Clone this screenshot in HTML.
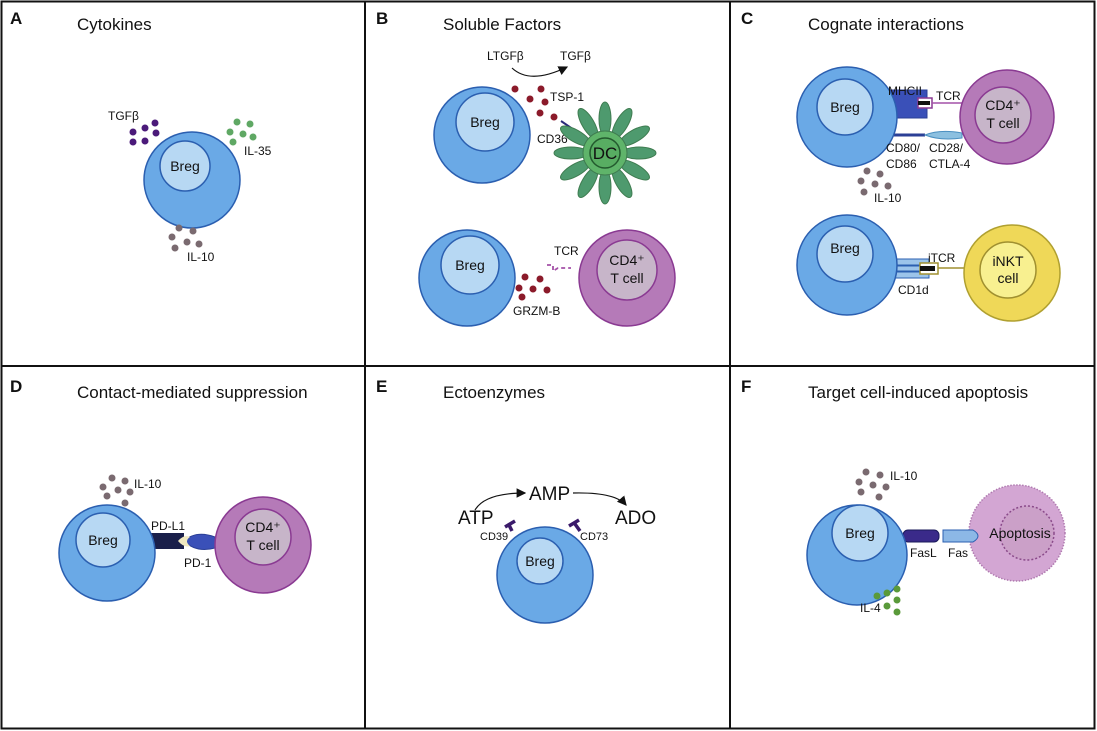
<!DOCTYPE html>
<html><head><meta charset="utf-8"><style>
html,body{margin:0;padding:0;background:#fff}
svg{display:block}
text{font-family:"Liberation Sans",sans-serif;fill:#111}
.t{font-size:17px}
.L{font-size:17px;font-weight:bold}
.s{font-size:12px}
.b{font-size:14px}
.o{fill:#6aa9e6;stroke:#2b5fb0;stroke-width:1.5}
.i{fill:#b7d8f3;stroke:#2b5fb0;stroke-width:1.5}
.po{fill:#b57ab8;stroke:#8a3a92;stroke-width:1.5}
.pi{fill:#c7b5c9;stroke:#8a3a92;stroke-width:1.5}
</style></head><body>
<svg width="1097" height="731" viewBox="0 0 1097 731" xmlns="http://www.w3.org/2000/svg">
<defs><marker id="ar" markerWidth="8" markerHeight="8" refX="7" refY="4" orient="auto"><path d="M0,0 L8,4 L0,8 z" fill="#111"/></marker></defs>
<rect x="1.5" y="1.5" width="1093" height="727" fill="none" stroke="#111" stroke-width="2"/>
<line x1="365" y1="1" x2="365" y2="729" stroke="#111" stroke-width="2"/>
<line x1="730" y1="1" x2="730" y2="729" stroke="#111" stroke-width="2"/>
<line x1="1" y1="366" x2="1095" y2="366" stroke="#111" stroke-width="2"/>

<text class="L" x="10" y="24">A</text><text class="t" x="77" y="30">Cytokines</text>
<text class="L" x="376" y="24">B</text><text class="t" x="443" y="30">Soluble Factors</text>
<text class="L" x="741" y="24">C</text><text class="t" x="808" y="30">Cognate interactions</text>
<text class="L" x="10" y="392">D</text><text class="t" x="77" y="398">Contact-mediated suppression</text>
<text class="L" x="376" y="392">E</text><text class="t" x="443" y="398">Ectoenzymes</text>
<text class="L" x="741" y="392">F</text><text class="t" x="808" y="398">Target cell-induced apoptosis</text>

<!-- A -->
<circle class="o" cx="192" cy="180" r="48"/><circle class="i" cx="185" cy="166" r="25"/>
<text class="b" x="185" y="171" text-anchor="middle">Breg</text>
<g fill="#4b1a7a"><circle cx="133" cy="132" r="3.5"/><circle cx="145" cy="128" r="3.5"/><circle cx="155" cy="123" r="3.5"/><circle cx="133" cy="142" r="3.5"/><circle cx="145" cy="141" r="3.5"/><circle cx="156" cy="133" r="3.5"/></g>
<text class="s" x="108" y="120">TGFβ</text>
<g fill="#5fa864"><circle cx="237" cy="122" r="3.5"/><circle cx="250" cy="124" r="3.5"/><circle cx="230" cy="132" r="3.5"/><circle cx="243" cy="134" r="3.5"/><circle cx="253" cy="137" r="3.5"/><circle cx="233" cy="142" r="3.5"/></g>
<text class="s" x="244" y="155">IL-35</text>
<g fill="#7a6a70"><circle cx="179" cy="228" r="3.5"/><circle cx="193" cy="231" r="3.5"/><circle cx="172" cy="237" r="3.5"/><circle cx="187" cy="242" r="3.5"/><circle cx="199" cy="244" r="3.5"/><circle cx="175" cy="248" r="3.5"/></g>
<text class="s" x="187" y="261">IL-10</text>

<!-- B top -->
<circle class="o" cx="482" cy="135" r="48"/><circle class="i" cx="485" cy="122" r="29"/>
<text class="b" x="485" y="127" text-anchor="middle">Breg</text>
<text class="s" x="487" y="60">LTGFβ</text><text class="s" x="560" y="60">TGFβ</text>
<path d="M512,68 Q530,85 567,67" fill="none" stroke="#111" stroke-width="1.2" marker-end="url(#ar)"/>
<g fill="#8b1a2a"><circle cx="515" cy="89" r="3.5"/><circle cx="541" cy="89" r="3.5"/><circle cx="530" cy="99" r="3.5"/><circle cx="545" cy="102" r="3.5"/><circle cx="540" cy="113" r="3.5"/><circle cx="554" cy="117" r="3.5"/></g>
<text class="s" x="550" y="101">TSP-1</text>
<text class="s" x="537" y="143">CD36</text>
<line x1="561" y1="121" x2="580" y2="134" stroke="#2a2a7a" stroke-width="2"/>
<g fill="#4e9a6e" stroke="#3f7c50" stroke-width="1" transform="translate(605,153)">
<g id="pet"><ellipse cx="0" cy="-34" rx="6" ry="17"/></g>
<use href="#pet" transform="rotate(30)"/><use href="#pet" transform="rotate(60)"/><use href="#pet" transform="rotate(90)"/><use href="#pet" transform="rotate(120)"/><use href="#pet" transform="rotate(150)"/><use href="#pet" transform="rotate(180)"/><use href="#pet" transform="rotate(210)"/><use href="#pet" transform="rotate(240)"/><use href="#pet" transform="rotate(270)"/><use href="#pet" transform="rotate(300)"/><use href="#pet" transform="rotate(330)"/>
<circle cx="0" cy="0" r="22" fill="#5fb46a"/>
<circle cx="0" cy="0" r="15" fill="#58ad62" stroke="#235a2e" stroke-width="1.5"/>
</g>
<text class="t" x="605" y="159" text-anchor="middle">DC</text>

<!-- B bottom -->
<circle class="o" cx="467" cy="278" r="48"/><circle class="i" cx="470" cy="265" r="29"/>
<text class="b" x="470" y="270" text-anchor="middle">Breg</text>
<circle class="po" cx="627" cy="278" r="48"/><circle class="pi" cx="627" cy="270" r="30"/>
<text class="b" x="627" y="265" text-anchor="middle">CD4⁺</text><text class="b" x="627" y="283" text-anchor="middle">T cell</text>
<text class="s" x="554" y="255">TCR</text>
<path d="M547,265 h6 v6 l5,-3 h13" fill="none" stroke="#a450a8" stroke-width="1.8" stroke-dasharray="4,3"/>
<g fill="#8b1a2a"><circle cx="525" cy="277" r="3.5"/><circle cx="540" cy="279" r="3.5"/><circle cx="519" cy="288" r="3.5"/><circle cx="533" cy="289" r="3.5"/><circle cx="547" cy="290" r="3.5"/><circle cx="522" cy="297" r="3.5"/></g>
<text class="s" x="513" y="315">GRZM-B</text>

<!-- C top -->
<rect x="887" y="90" width="40" height="28" fill="#3a50b8" stroke="#2b3f96"/>
<rect x="918" y="98" width="14" height="10" fill="#fff" stroke="#8a3a92" stroke-width="1.5"/>
<rect x="918" y="101" width="12" height="4" fill="#111"/>
<line x1="932" y1="103" x2="962" y2="103" stroke="#a450a8" stroke-width="1.5"/>
<line x1="885" y1="135" x2="925" y2="135" stroke="#2b3f96" stroke-width="3"/>
<path d="M925,135 Q940,129 962,133 L962,138 Q940,141 925,135 z" fill="#8cc0e0" stroke="#4a8fc0"/>
<circle class="o" cx="847" cy="117" r="50"/><circle class="i" cx="845" cy="107" r="28"/>
<text class="b" x="845" y="112" text-anchor="middle">Breg</text>
<circle class="po" cx="1007" cy="117" r="47"/><circle class="pi" cx="1003" cy="115" r="28"/>
<text class="b" x="1003" y="110" text-anchor="middle">CD4⁺</text><text class="b" x="1003" y="128" text-anchor="middle">T cell</text>
<text class="s" x="888" y="95">MHCII</text><text class="s" x="936" y="100">TCR</text>
<text class="s" x="886" y="152">CD80/</text><text class="s" x="886" y="168">CD86</text>
<text class="s" x="929" y="152">CD28/</text><text class="s" x="929" y="168">CTLA-4</text>
<g fill="#7a6a70"><circle cx="867" cy="171" r="3.5"/><circle cx="880" cy="174" r="3.5"/><circle cx="861" cy="181" r="3.5"/><circle cx="875" cy="184" r="3.5"/><circle cx="888" cy="186" r="3.5"/><circle cx="864" cy="192" r="3.5"/></g>
<text class="s" x="874" y="202">IL-10</text>

<!-- C bottom -->
<rect x="893" y="259" width="36" height="6" fill="#9cc4ea" stroke="#2b5fb0"/>
<rect x="893" y="266" width="36" height="5" fill="#9cc4ea" stroke="#2b5fb0"/>
<rect x="893" y="272" width="36" height="6" fill="#9cc4ea" stroke="#2b5fb0"/>
<rect x="920" y="263" width="18" height="11" fill="#fff" stroke="#a09030" stroke-width="1.5"/>
<rect x="920" y="266" width="15" height="5" fill="#111"/>
<line x1="938" y1="268" x2="966" y2="268" stroke="#a09030" stroke-width="1.5"/>
<circle class="o" cx="847" cy="265" r="50"/><circle class="i" cx="845" cy="254" r="28"/>
<text class="b" x="845" y="253" text-anchor="middle">Breg</text>
<circle cx="1012" cy="273" r="48" fill="#efd858" stroke="#b0a030" stroke-width="1.5"/>
<circle cx="1008" cy="270" r="28" fill="#f8f090" stroke="#a09030" stroke-width="1.5"/>
<text class="b" x="1008" y="266" text-anchor="middle">iNKT</text><text class="b" x="1008" y="283" text-anchor="middle">cell</text>
<text class="s" x="928" y="262">iTCR</text><text class="s" x="898" y="294">CD1d</text>

<!-- D -->
<rect x="148" y="533" width="36" height="16" fill="#1a1f4a"/>
<path d="M184,541 Q196,530 215,537 L215,548 Q196,553 184,541 z" fill="#3a50b8" stroke="#2b3f96"/>
<path d="M178,541 Q184,534 190,537 Q184,541 190,546 Q184,548 178,541z" fill="#f0e8c0"/>
<circle class="o" cx="107" cy="553" r="48"/><circle class="i" cx="103" cy="540" r="27"/>
<text class="b" x="103" y="545" text-anchor="middle">Breg</text>
<circle class="po" cx="263" cy="545" r="48"/><circle class="pi" cx="263" cy="537" r="28"/>
<text class="b" x="263" y="532" text-anchor="middle">CD4⁺</text><text class="b" x="263" y="550" text-anchor="middle">T cell</text>
<text class="s" x="151" y="530">PD-L1</text><text class="s" x="184" y="567">PD-1</text>
<g fill="#7a6a70"><circle cx="112" cy="478" r="3.5"/><circle cx="125" cy="481" r="3.5"/><circle cx="103" cy="487" r="3.5"/><circle cx="118" cy="490" r="3.5"/><circle cx="130" cy="492" r="3.5"/><circle cx="107" cy="496" r="3.5"/><circle cx="125" cy="503" r="3.5"/></g>
<text class="s" x="134" y="488">IL-10</text>

<!-- E -->
<circle class="o" cx="545" cy="575" r="48"/><circle class="i" cx="540" cy="561" r="23"/>
<text class="b" x="540" y="566" text-anchor="middle">Breg</text>
<path d="M512,531 l-3,-6 M505,527 l10,-6" stroke="#3a1a6a" stroke-width="3.5" fill="none"/>
<path d="M580,531 l-5,-7 M569,526 l10,-6" stroke="#3a1a6a" stroke-width="3.5" fill="none"/>
<text x="458" y="524" style="font-size:19px">ATP</text>
<text x="529" y="500" style="font-size:19px">AMP</text>
<text x="615" y="524" style="font-size:19px">ADO</text>
<path d="M475,510 Q485,493 525,493" fill="none" stroke="#111" stroke-width="1.2" marker-end="url(#ar)"/>
<path d="M573,493 Q615,492 626,505" fill="none" stroke="#111" stroke-width="1.2" marker-end="url(#ar)"/>
<text class="s" x="480" y="540" style="font-size:11px">CD39</text><text class="s" x="580" y="540" style="font-size:11px">CD73</text>

<!-- F -->
<circle cx="1017" cy="533" r="48" fill="#d3a6d3" stroke="#b07ab0" stroke-width="1.5" stroke-dasharray="1.5,1.5"/>
<circle cx="1027" cy="533" r="27" fill="#cba0c8" stroke="#8a4a8a" stroke-width="1.5" stroke-dasharray="2,2"/>
<text class="b" x="1020" y="538" text-anchor="middle">Apoptosis</text>
<rect x="903" y="530" width="36" height="12" rx="5" fill="#3a2a8a" stroke="#1a1a5a"/>
<path d="M943,530 h30 q10,6 0,12 h-30 z" fill="#8cb8e6" stroke="#2b5fb0"/>
<circle class="o" cx="857" cy="555" r="50"/><circle class="i" cx="860" cy="533" r="28"/>
<text class="b" x="860" y="538" text-anchor="middle">Breg</text>
<text class="s" x="910" y="557">FasL</text><text class="s" x="948" y="557">Fas</text>
<g fill="#7a6a70"><circle cx="866" cy="472" r="3.5"/><circle cx="880" cy="475" r="3.5"/><circle cx="859" cy="482" r="3.5"/><circle cx="873" cy="485" r="3.5"/><circle cx="886" cy="487" r="3.5"/><circle cx="861" cy="492" r="3.5"/><circle cx="879" cy="497" r="3.5"/></g>
<text class="s" x="890" y="480">IL-10</text>
<g fill="#5a9a3a"><circle cx="877" cy="596" r="3.5"/><circle cx="887" cy="593" r="3.5"/><circle cx="897" cy="589" r="3.5"/><circle cx="897" cy="600" r="3.5"/><circle cx="887" cy="606" r="3.5"/><circle cx="897" cy="612" r="3.5"/></g>
<text class="s" x="860" y="612">IL-4</text>
</svg>
</body></html>
